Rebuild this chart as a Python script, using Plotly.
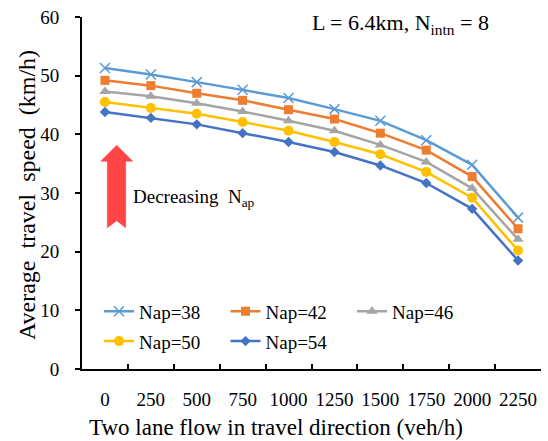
import plotly.graph_objects as go

flows = ["0", "250", "500", "750", "1000", "1250", "1500", "1750", "2000", "2250"]
nap38 = [51.3, 50.2, 48.9, 47.6, 46.2, 44.3, 42.3, 39.0, 34.8, 25.8]
nap42 = [49.2, 48.3, 47.0, 45.8, 44.2, 42.6, 40.2, 37.3, 32.8, 23.9]
nap46 = [47.3, 46.5, 45.3, 43.9, 42.3, 40.6, 38.2, 35.3, 30.8, 22.1]
nap50 = [45.5, 44.5, 43.5, 42.1, 40.6, 38.7, 36.6, 33.6, 29.2, 20.2]
nap54 = [43.8, 42.8, 41.7, 40.2, 38.7, 37.0, 34.7, 31.7, 27.3, 18.5]

series = [
    ("Nap=38", nap38, "#5B9BD5", dict(symbol="x-thin-open", size=10, line=dict(width=1.5, color="#5B9BD5")), "legend"),
    ("Nap=42", nap42, "#ED7D31", dict(symbol="square", size=9), "legend"),
    ("Nap=46", nap46, "#A5A5A5", dict(symbol="triangle-up", size=10), "legend"),
    ("Nap=50", nap50, "#FFC000", dict(symbol="circle", size=10), "legend2"),
    ("Nap=54", nap54, "#4472C4", dict(symbol="diamond", size=8), "legend2"),
]

FONT = "Liberation Serif"
W, H = 548, 441
ML, MR, MT, MB = 82, 7, 15, 72
PW, PH = W - ML - MR, H - MT - MB


def px(x):
    return (x - ML) / PW


def py(y):
    return (H - MB - y) / PH


fig = go.Figure()
for name, vals, color, mk, lg in series:
    marker = dict(color=color, **mk)
    fig.add_trace(go.Scatter(x=flows, y=vals, name=name, mode="lines+markers",
                             line=dict(color=color, width=2.5), marker=marker, legend=lg))

# arrow (annotation graphic)
pts = [(116.7, 144), (132.7, 160), (125.7, 160), (125.7, 227), (116.7, 220),
       (107.3, 227), (107.3, 160), (100.7, 160)]
path = "M " + " L ".join(f"{px(a):.5f},{py(b):.5f}" for a, b in pts) + " Z"
fig.add_shape(type="path", path=path, xref="paper", yref="paper",
              fillcolor="#FF4545", line=dict(color="#FF4545", width=0.5))

fig.add_annotation(text="Decreasing\u00a0\u00a0N<sub>ap</sub>", xref="paper", yref="paper",
                   x=px(131), y=py(197), xanchor="left", yanchor="middle", showarrow=False,
                   font=dict(family=FONT, size=19, color="black"))
fig.add_annotation(text="L = 6.4km, N<sub>intn</sub> = 8", xref="paper", yref="paper",
                   x=px(310), y=py(22), xanchor="left", yanchor="middle", showarrow=False,
                   font=dict(family=FONT, size=22, color="black"))
fig.add_annotation(text="Two lane flow in travel direction (veh/h)", xref="paper", yref="paper",
                   x=px(275.5), y=py(428), xanchor="center", yanchor="middle", showarrow=False,
                   font=dict(family=FONT, size=23, color="black"))
fig.add_annotation(text="Average\u00a0 travel\u00a0 speed\u00a0 (km/h)", xref="paper", yref="paper",
                   x=px(27), y=py(194), xanchor="center", yanchor="middle", showarrow=False,
                   textangle=-90, font=dict(family=FONT, size=24, color="black"))

legend_common = dict(orientation="h", xanchor="left", yanchor="top",
                     entrywidth=81.5, entrywidthmode="pixels", bgcolor="rgba(0,0,0,0)",
                     font=dict(family=FONT, size=19, color="black"), itemwidth=30)

fig.update_layout(
    width=W, height=H,
    margin=dict(l=ML, r=MR, t=MT, b=MB),
    plot_bgcolor="white", paper_bgcolor="white",
    font=dict(family=FONT, size=19, color="black"),
    showlegend=True,
    legend=dict(x=px(99), y=py(292), **legend_common),
    legend2=dict(x=px(99), y=py(322), **legend_common),
    xaxis=dict(type="category", range=[-0.5, 9.5], tickson="boundaries", ticks="inside",
               ticklen=5, tickwidth=1.5, tickcolor="black", showline=True, linecolor="black",
               linewidth=2, showgrid=False, zeroline=False, ticklabelstandoff=12,
               tickangle=0,
               tickfont=dict(family=FONT, size=19, color="black")),
    yaxis=dict(range=[0, 60], dtick=10, ticks="outside", ticklen=5, tickwidth=1.5,
               tickcolor="black", showline=True, linecolor="black", linewidth=2,
               showgrid=False, zeroline=False, ticklabelstandoff=12,
               tickfont=dict(family=FONT, size=19, color="black")),
)

fig.write_html("out.html")
